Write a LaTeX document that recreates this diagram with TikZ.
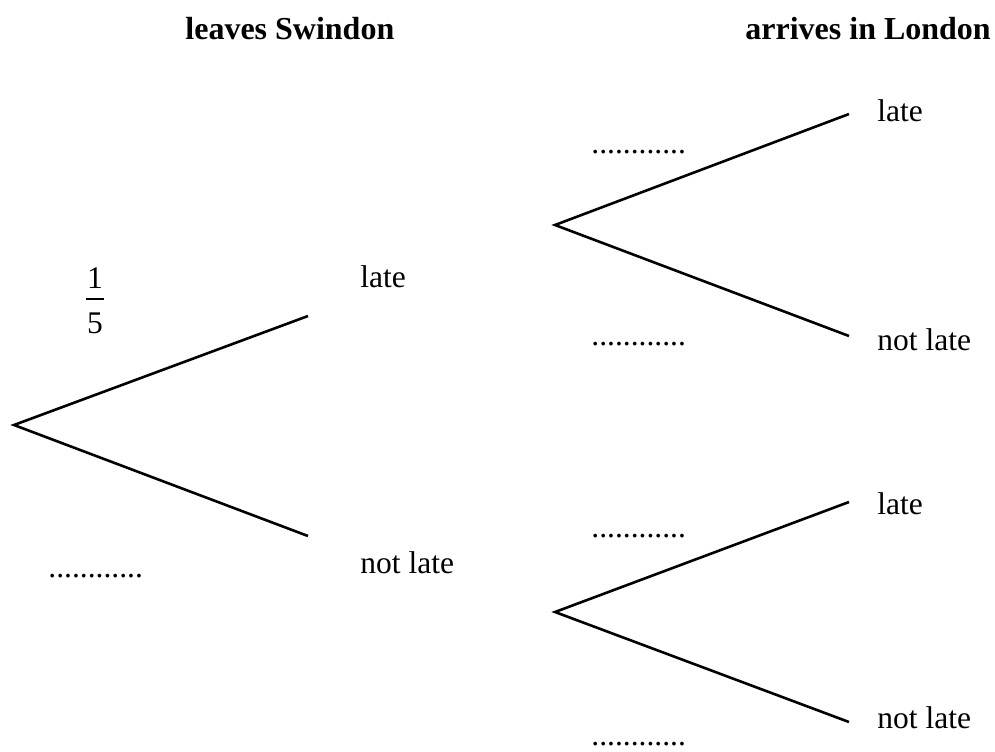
\documentclass[tikz,border=0pt]{standalone}
\usepackage{fontspec}
\setmainfont{Liberation Serif}
\begin{document}
\begin{tikzpicture}[x=0.5pt,y=-0.5pt,
  branch/.style={line width=1.3pt, line join=miter},
  outcome/.style={anchor=base west, inner sep=0pt, font=\fontsize{15.75}{18}\selectfont},
  heading/.style={anchor=base west, inner sep=0pt, font=\fontsize{16}{19}\selectfont\bfseries},
  blank/.style={anchor=base west, inner sep=0pt, font=\fontsize{15.75}{18}\selectfont},
  digit/.style={anchor=base, inner sep=0pt, font=\fontsize{15.75}{18}\selectfont}]
  \useasboundingbox (0,0) rectangle (995,751);

  % column headings
  \node[heading] (h1) at (185,39) {leaves Swindon};
  \node[heading] (h2) at (745,39) {arrives in London};

  % first stage
  \coordinate (r0) at (14,425);
  \coordinate (a1) at (308,316);
  \coordinate (a2) at (308,536);
  \draw[branch] (a1) -- (r0) -- (a2);
  \node[outcome] (l1) at (360,287) {late};
  \node[outcome] (n1) at (360,573) {not late};

  % probability 1/5
  \node[digit] (num) at (95,288) {1};
  \coordinate (barL) at (86,299);
  \coordinate (barR) at (104,299);
  \draw[line width=0.65pt] (barL) -- (barR);
  \node[digit] (den) at (95,333) {5};
  \node[blank] (d0) at (48,577) {............};

  % second stage, after late
  \coordinate (r1) at (555,225);
  \coordinate (b1) at (849,114);
  \coordinate (b2) at (849,336);
  \draw[branch] (b1) -- (r1) -- (b2);
  \node[outcome] (l2) at (877,121) {late};
  \node[outcome] (n2) at (877,350) {not late};
  \node[blank] (d1) at (591,153) {............};
  \node[blank] (d2) at (591,345) {............};

  % second stage, after not late
  \coordinate (r2) at (555,612);
  \coordinate (c1) at (849,502);
  \coordinate (c2) at (849,722);
  \draw[branch] (c1) -- (r2) -- (c2);
  \node[outcome] (l3) at (877,514) {late};
  \node[outcome] (n3) at (877,728) {not late};
  \node[blank] (d3) at (591,537) {............};
  \node[blank] (d4) at (591,745) {............};
\end{tikzpicture}
\end{document}
